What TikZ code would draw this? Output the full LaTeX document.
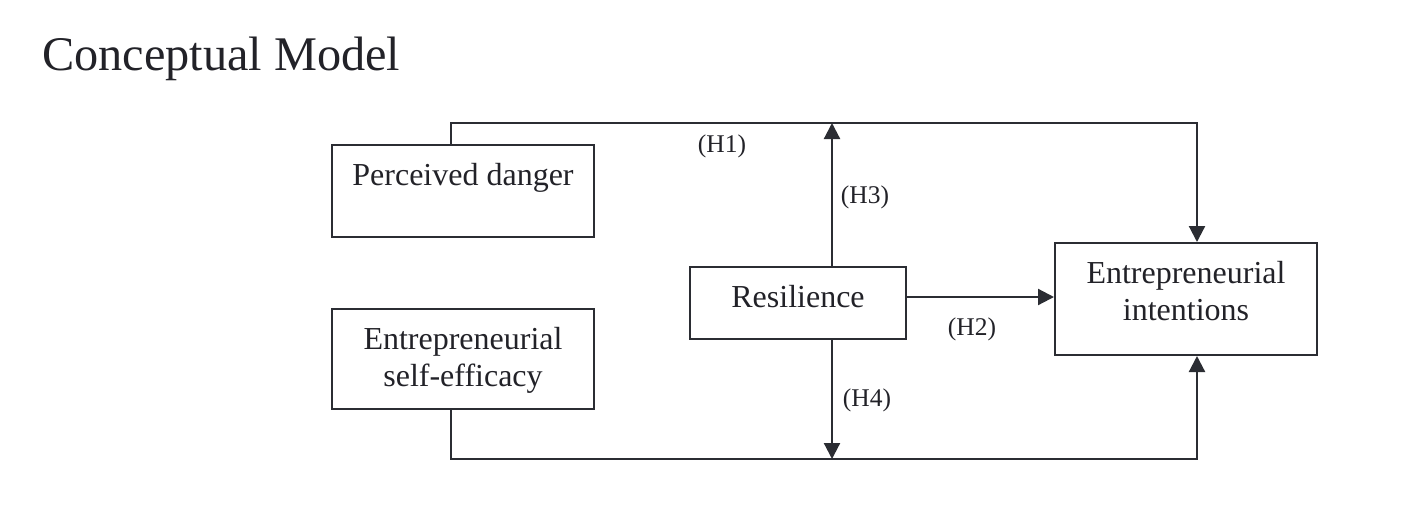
\documentclass[tikz,border=0pt]{standalone}
\usepackage{fontspec}
\setmainfont{Liberation Serif}
\usetikzlibrary{arrows.meta}
\definecolor{ink}{HTML}{2B2D33}
\definecolor{txt}{HTML}{222228}
\begin{document}
\begin{tikzpicture}[x=1pt,y=-1pt,
  box/.style={draw=ink,line width=2pt,inner sep=0pt},
  boxtext/.style={text=txt,font=\fontsize{32}{37}\selectfont,align=center,inner sep=0pt},
  hyp/.style={text=txt,font=\fontsize{25.5}{30}\selectfont,inner sep=0pt},
  conn/.style={draw=ink,line width=2.2pt},
  arr/.style={conn,-{Triangle[width=16pt,length=16pt]}}]
\useasboundingbox (0,0) rectangle (1409,515);
\node[anchor=base west,text=txt,font=\fontsize{48.3}{56}\selectfont,inner sep=0pt] (title) at (42,70) {Conceptual Model};
% boxes
\node[box,minimum width=262pt,minimum height=92pt] (pd) at (463,191) {};
\node[boxtext] (pdt) at (463,178) {Perceived danger};
\node[box,minimum width=262pt,minimum height=100pt] (se) at (463,359) {};
\node[boxtext] (set) at (463,360) {Entrepreneurial\\self-efficacy};
\node[box,minimum width=216pt,minimum height=72pt] (re) at (798,303) {};
\node[boxtext] (ret) at (798,297) {Resilience};
\node[box,minimum width=262pt,minimum height=112pt] (ei) at (1186,299) {};
\node[boxtext] (eit) at (1186,291) {Entrepreneurial\\intentions};
% coordinates
\coordinate (tl) at (451,123);
\coordinate (tm) at (832,123);
\coordinate (tr) at (1197,123);
\coordinate (bl) at (451,459);
\coordinate (bm) at (832,459);
\coordinate (br) at (1197,459);
\coordinate (rr) at (906,297);
% connectors
\draw[arr] (pd.north -| tl) -- (tl) -- (tr) -- (tr |- ei.north);
\draw[arr] (se.south -| bl) -- (bl) -- (br) -- (br |- ei.south);
\draw[arr] (re.north -| tm) -- (tm);
\draw[arr] (re.south -| bm) -- (bm);
\draw[arr] (rr) -- (ei.west |- rr);
% labels
\node[hyp] (h1) at (722,146) {(H1)};
\node[hyp] (h3) at (865,197) {(H3)};
\node[hyp] (h2) at (972,329) {(H2)};
\node[hyp] (h4) at (867,400) {(H4)};
\end{tikzpicture}
\end{document}
